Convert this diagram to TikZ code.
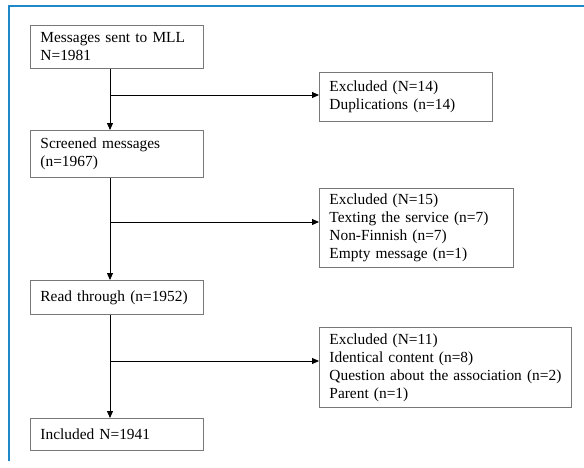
\documentclass[tikz,border=0pt]{standalone}
\usepackage{fontspec}
\setmainfont{Liberation Serif}
\usetikzlibrary{arrows.meta}
\definecolor{frameblue}{RGB}{30,136,200}
\definecolor{boxgrey}{RGB}{120,120,120}
\tikzset{
  fbox/.style={draw=boxgrey, line width=0.9pt, anchor=north west, align=left,
    inner xsep=10pt, inner ysep=0pt, font=\fontsize{15.4}{17.9}\selectfont},
  arr/.style={draw=black, line width=0.9pt, -{Triangle[length=7pt,width=6pt]}},
  conn/.style={draw=black, line width=0.9pt}
}
\begin{document}
\begin{tikzpicture}[x=1pt,y=-1pt]
\useasboundingbox (0,0) rectangle (584,467);
\draw[frameblue, line width=2pt] (9,461) -- (9,5.5) -- (584,5.5);

\node[fbox, text width=153pt, minimum height=43pt] (A) at (30,25) {Messages sent to MLL\\N=1981};
\node[fbox, text width=153pt, minimum height=47pt] (B) at (30,130) {Screened messages\\(n=1967)};
\node[fbox, text width=153pt, minimum height=34pt] (C) at (30,280) {Read through (n=1952)};
\node[fbox, text width=153pt, minimum height=32pt] (D) at (30,418) {Included N=1941};

\node[fbox, text width=153pt, minimum height=49pt] (E1) at (319,72) {Excluded (N=14)\\Duplications (n=14)};
\node[fbox, text width=174pt, minimum height=79pt] (E2) at (319,188) {Excluded (N=15)\\Texting the service (n=7)\\Non-Finnish (n=7)\\Empty message (n=1)};
\node[fbox, text width=232pt, minimum height=80pt] (E3) at (319,327) {Excluded (N=11)\\Identical content (n=8)\\Question about the association (n=2)\\Parent (n=1)};

\coordinate (m) at (110,0);
\coordinate (b1) at (110,95);
\coordinate (b2) at (110,222);
\coordinate (b3) at (110,361);

\draw[arr] (A.south -| m) -- (B.north -| m);
\draw[arr] (B.south -| m) -- (C.north -| m);
\draw[arr] (C.south -| m) -- (D.north -| m);

\draw[arr] (b1) -- (b1 -| E1.west);
\draw[arr] (b2) -- (b2 -| E2.west);
\draw[arr] (b3) -- (b3 -| E3.west);
\end{tikzpicture}
\end{document}
